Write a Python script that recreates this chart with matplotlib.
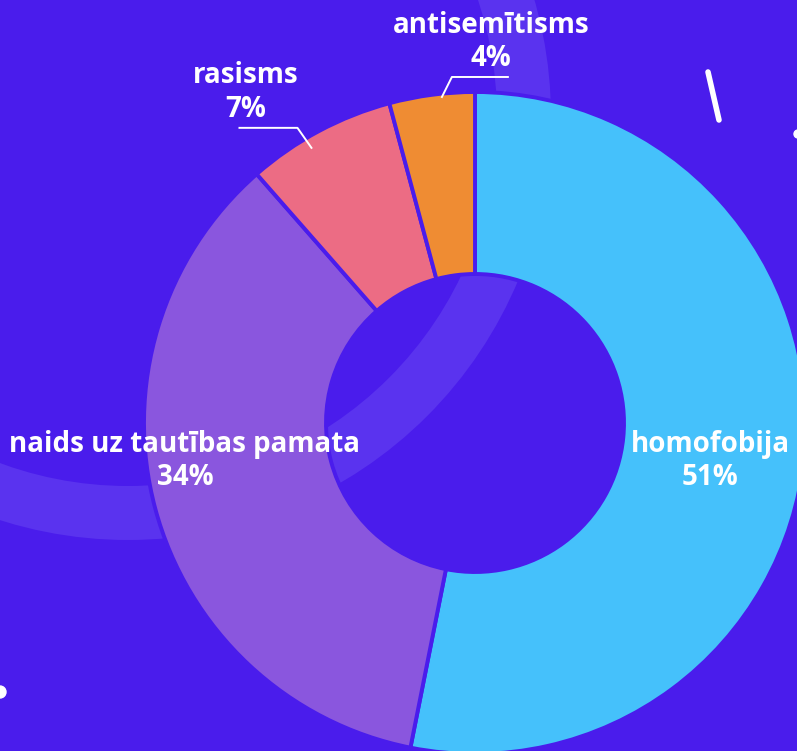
import numpy as np
import matplotlib.pyplot as plt
from matplotlib.patches import Circle, Wedge

categories = ["homofobija", "naids uz tautības pamata", "rasisms", "antisemītisms"]
values = [51, 34, 7, 4]
pct_labels = ["51%", "34%", "7%", "4%"]
colors = ["#45c1fb", "#8a56de", "#ec6c84", "#ef8c33"]

BG = "#4a1cec"
RING = "#5a33ef"
W, H = 797, 751

fig = plt.figure(figsize=(W / 100, H / 100), dpi=100, facecolor=BG)
ax = fig.add_axes([0, 0, 1, 1])
ax.set_facecolor(BG)

# decorative background ring
ax.add_patch(Wedge((128, H - 117), 423, 0, 360, width=54, facecolor=RING, edgecolor="none", zorder=0))
# decorative white marks
ax.plot([708, 719], [H - 72, H - 120], color="white", lw=4.0, solid_capstyle="round", zorder=1)
ax.add_patch(Circle((0, H - 692), 6, color="white", zorder=1))
ax.add_patch(Circle((798, H - 134), 4, color="white", zorder=1))

cx, cy = 475, H - 423
R = 331
rin = 149
wedges, _ = ax.pie(values, colors=colors, startangle=90, counterclock=False,
                   radius=R, center=(cx, cy), frame=True,
                   wedgeprops=dict(width=R - rin, edgecolor=BG, linewidth=2.8, joinstyle="round"))
ax.set_xlim(0, W)
ax.set_ylim(0, H)
ax.set_aspect("equal")
ax.axis("off")

font = dict(family=["Open Sans", "DejaVu Sans"], weight="bold", color="white", fontsize=20)

# inside labels for big slices (label centre positions in pixels)
inside_pos = {0: (710, H - 461), 1: (185, H - 461)}
for i, (x, y) in inside_pos.items():
    ax.text(x, y, categories[i] + "\n" + pct_labels[i], ha="center", va="center",
            linespacing=1.2, zorder=5, **font)

# outside labels with leader lines
# (index, angular shift from wedge middle in deg, radius factor, elbow dx, elbow dy, horizontal length, text dx)
for i, dth, r_fac, dx_elb, dy_elb, hlen, tdx in [(2, 2.6, 0.967, -14, 20, -58, -23),
                                                  (3, -1.7, 0.99, 10, 20, 56, 11)]:
    a = np.deg2rad((wedges[i].theta1 + wedges[i].theta2) / 2 + dth)
    x0 = cx + R * r_fac * np.cos(a)
    y0 = cy + R * r_fac * np.sin(a)
    x1, y1 = x0 + dx_elb, y0 + dy_elb
    x2 = x1 + hlen
    ax.plot([x0, x1, x2], [y0, y1, y1], color="white", lw=1.4, zorder=5)
    tx = (x1 + x2) / 2 + tdx
    ax.text(tx, y1 + 4, categories[i] + "\n" + pct_labels[i], ha="center", va="bottom",
            linespacing=1.2, zorder=5, **font)

fig.savefig("out.png", dpi=100, facecolor=BG)
